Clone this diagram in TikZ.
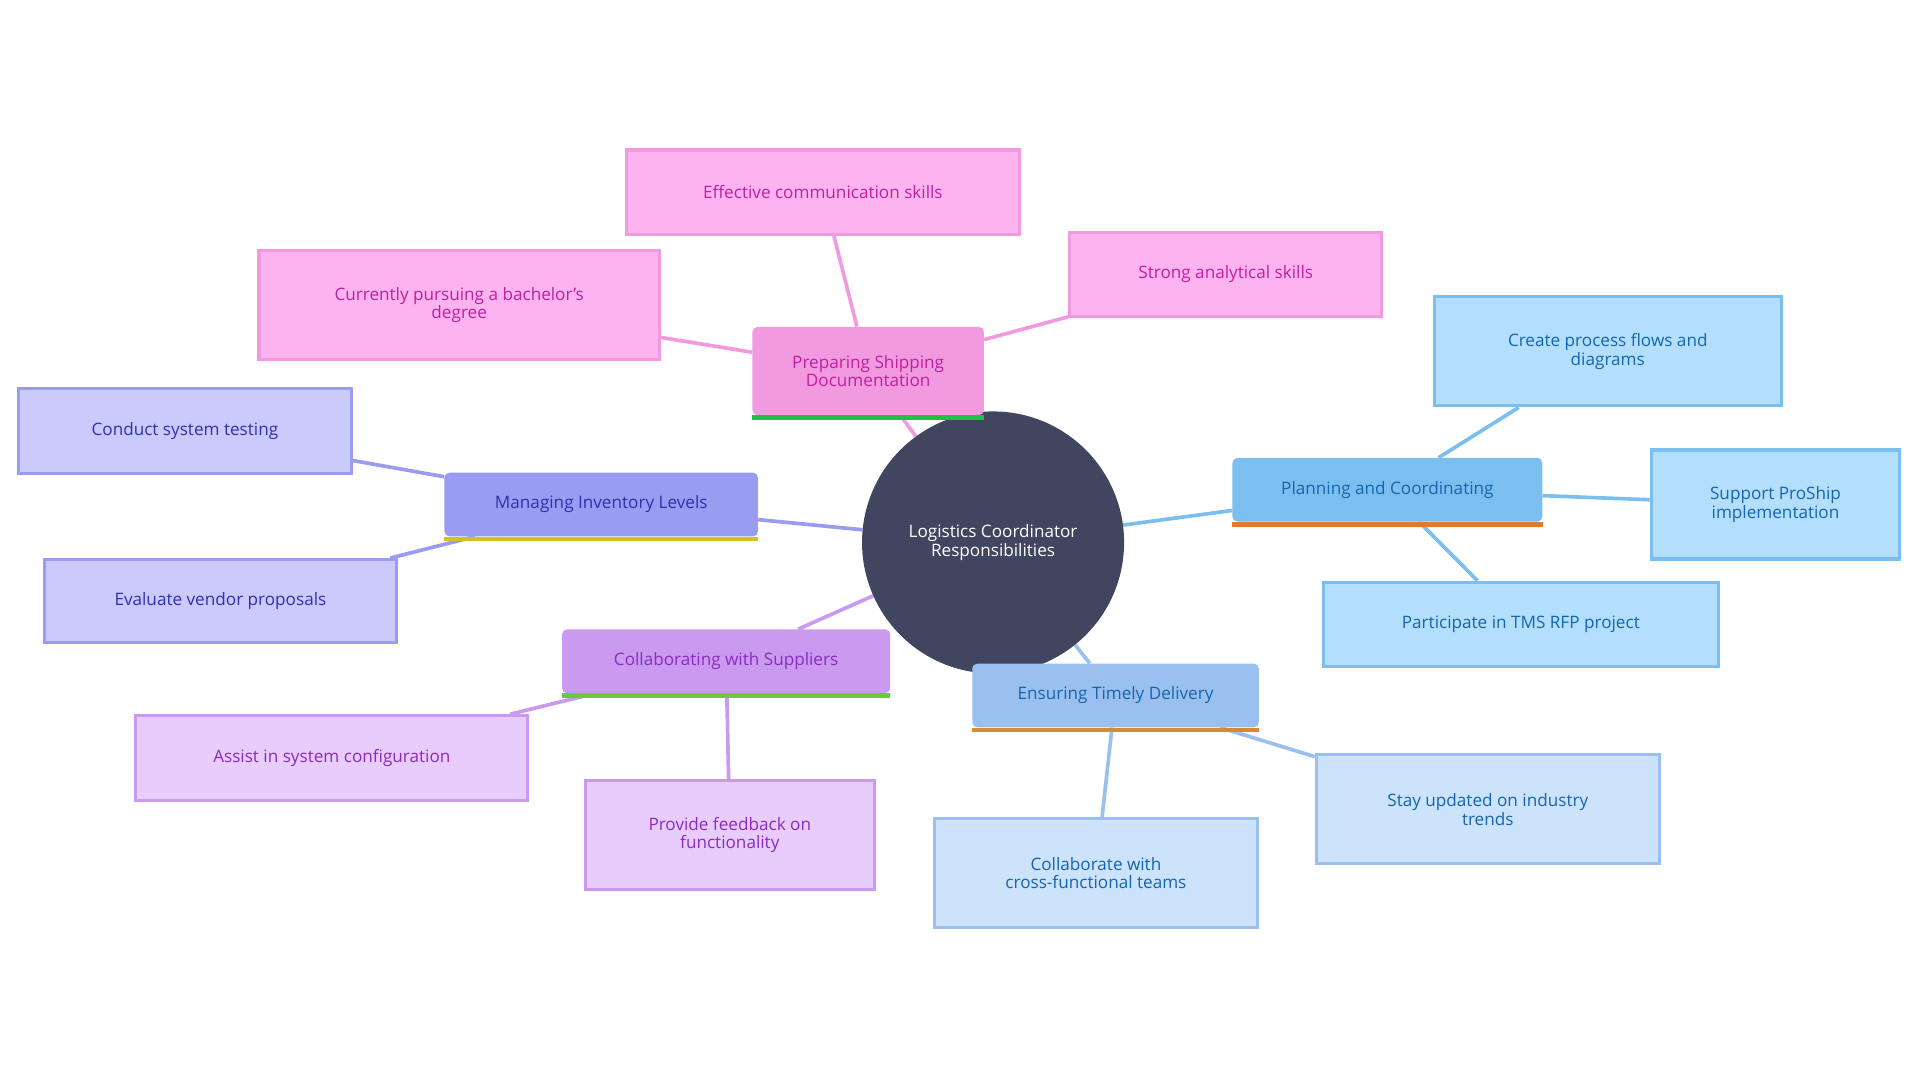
\documentclass[tikz,border=0pt]{standalone}
\usepackage{fontspec}
\setmainfont{Open Sans}
\usetikzlibrary{shapes,backgrounds,positioning}

\definecolor{hub}{HTML}{404560}
\definecolor{plA}{HTML}{7BBFF0}\definecolor{plB}{HTML}{B3DFFC}\definecolor{plT}{HTML}{1565B0}
\definecolor{deA}{HTML}{99C0EE}\definecolor{deB}{HTML}{CDE2FB}
\definecolor{suA}{HTML}{C99AF0}\definecolor{suB}{HTML}{E8CCFC}\definecolor{suT}{HTML}{8A2CC0}
\definecolor{inA}{HTML}{999CF0}\definecolor{inB}{HTML}{CACAFC}\definecolor{inT}{HTML}{3030B0}
\definecolor{shA}{HTML}{F29AE0}\definecolor{shB}{HTML}{FCB3F0}\definecolor{shT}{HTML}{C020A0}
\definecolor{u1}{HTML}{E07B30}\definecolor{u2}{HTML}{D98A2E}\definecolor{u3}{HTML}{6CC83C}
\definecolor{u4}{HTML}{D4C020}\definecolor{u5}{HTML}{20C040}

\begin{document}
\begin{tikzpicture}[x=1pt,y=-1pt]
			\tikzstyle{Hub}		= [circle, fill=hub, text=white, minimum size=214pt, inner sep=0pt, align=center, font=\fontsize{14}{15}\selectfont]
			\tikzstyle{Main}	= [rounded corners=4pt, minimum height=52pt, inner sep=0pt, align=center, font=\fontsize{14}{15}\selectfont]
			\tikzstyle{Leaf}	= [draw, line width=2.5pt, inner sep=0pt, align=center, font=\fontsize{14}{15}\selectfont]
			\tikzstyle{Link}	= [line width=3pt]

			\useasboundingbox (0,0) rectangle (1568,882);

			\node (hub) at (811,443) [Hub] {Logistics Coordinator\\Responsibilities};

			% main topics
			\node (plan) at (1133,400) [Main, fill=plA, text=plT, minimum width=253pt] {Planning and Coordinating};
			\node (deli) at (911,568) [Main, fill=deA, text=plT, minimum width=234pt] {Ensuring Timely Delivery};
			\node (supp) at (593,540) [Main, fill=suA, text=suT, minimum width=268pt] {Collaborating with Suppliers};
			\node (inve) at (491,412) [Main, fill=inA, text=inT, minimum width=256pt] {Managing Inventory Levels};
			\node (ship) at (709,303) [Main, fill=shA, text=shT, minimum width=189pt, minimum height=72pt] {Preparing Shipping\\Documentation};

			% leaves
			\foreach \n/\x/\y/\w/\h/\c/\t/\s in {
				flow/1313/287/283/89/pl/plT/{Create process flows and\\diagrams},
				pros/1450/412/203/89/pl/plT/{Support ProShip\\implementation},
				tmsr/1242/510/323/69/pl/plT/{Participate in TMS RFP project},
				tren/1215/661/280/89/de/plT/{Stay updated on industry\\trends},
				team/895/713/264/89/de/plT/{Collaborate with\\cross-functional teams},
				conf/271/619/320/69/su/suT/{Assist in system configuration},
				feed/596/682/236/89/su/suT/{Provide feedback on\\functionality},
				test/151/352/272/69/in/inT/{Conduct system testing},
				vend/180/491/288/68/in/inT/{Evaluate vendor proposals},
				comm/672/157/321/69/sh/shT/{Effective communication skills},
				bach/375/249/327/89/sh/shT/{Currently pursuing a bachelor's\\degree},
				anal/1001/224/255/69/sh/shT/{Strong analytical skills}}
				\node (\n) at (\x,\y) [Leaf, draw=\c A, fill=\c B, text=\t, minimum width=\w pt, minimum height=\h pt] {\s};

			% underlines
			\foreach \m/\c in {plan/u1, deli/u2, supp/u3, inve/u4, ship/u5}
				\fill [\c] (\m.south west) rectangle ([yshift=-4pt]\m.south east);

			\begin{scope}[on background layer]
				\foreach \a/\b/\c in {hub/plan/plA, plan/flow/plA, plan/pros/plA, plan/tmsr/plA,
					hub/deli/deA, deli/tren/deA, deli/team/deA,
					hub/supp/suA, supp/conf/suA, supp/feed/suA,
					hub/inve/inA, inve/test/inA, inve/vend/inA,
					hub/ship/shA, ship/comm/shA, ship/bach/shA, ship/anal/shA}
					\draw [Link, \c] (\a) -- (\b);
			\end{scope}
		\end{tikzpicture}
\end{document}
